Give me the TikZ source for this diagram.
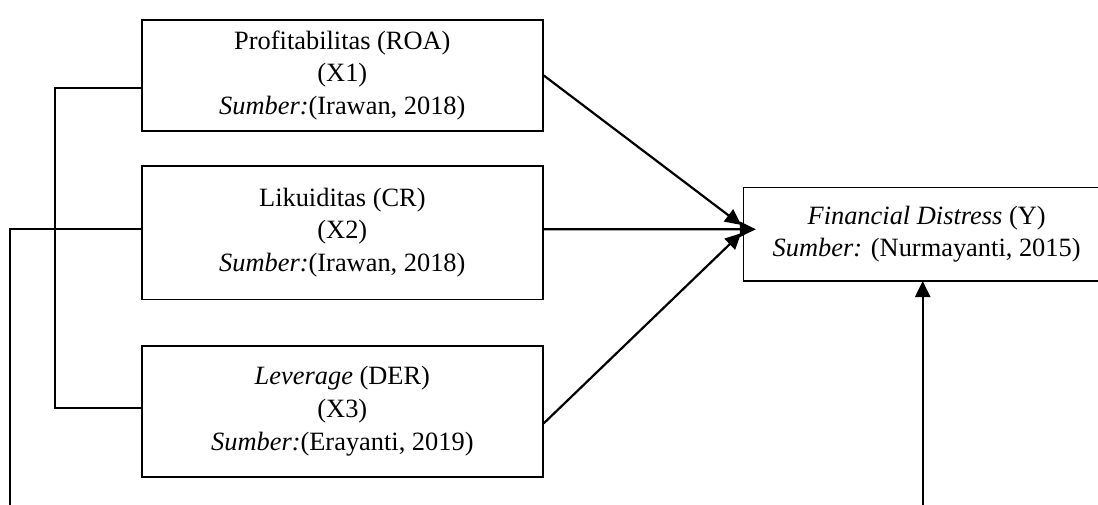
\documentclass[tikz,border=0pt]{standalone}
\usepackage{fontspec}
\setmainfont{Liberation Serif}
\usetikzlibrary{arrows.meta,calc}
\begin{document}
\begin{tikzpicture}[x=1pt,y=-1pt,
  box/.style={draw,line width=1.6pt,inner sep=0pt,align=center,
    font=\fontsize{26.4}{28.4}\selectfont},
  conn/.style={line width=2.2pt},
  arr/.style={conn,-{Triangle[length=16pt,width=15pt]}}]
\useasboundingbox (0,0) rectangle (1098,504);
\clip (0,0) rectangle (1098,504);
\node[box,minimum width=401.3pt,minimum height=111pt] (B1) at (342.35,75.5)
  {Profitabilitas (ROA)\\[4.4pt](X1)\\[4.4pt]\textit{Sumber:}(Irawan, 2018)};
\node[box,minimum width=401.3pt,minimum height=133.6pt] (B2) at (342.35,232.5)
  {Likuiditas (CR)\\[4.4pt](X2)\\[4.4pt]\textit{Sumber:}(Irawan, 2018)};
\node[box,minimum width=401.3pt,minimum height=131pt] (B3) at (342.35,411.2)
  {\textit{Leverage} (DER)\\[4.4pt](X3)\\[4.4pt]\textit{Sumber:}(Erayanti, 2019)};
\node[box,minimum width=366.7pt,minimum height=93.7pt] (Y) at (926.65,234.15)
  {\raisebox{3pt}{\textit{Financial Distress} (Y)}\\[4.4pt]\raisebox{3pt}{\textit{Sumber:} (Nurmayanti, 2015)}};
\coordinate (t1) at ($(Y.west)+(-1.3,-9.2)$);
\coordinate (t2) at ($(Y.west)+(13.4,-4.9)$);
\coordinate (t3) at ($(Y.west)+(-1.3,-1)$);
\coordinate (b1) at ($(B1.west)+(0,12.5)$);
\coordinate (b3) at ($(B3.west)+(0,-3.5)$);
\coordinate (l2) at ($(B2.west)+(0,-3.2)$);
% arrows to Y
\draw[arr] (B1.east) -- (t1);
\draw[arr] ($(B2.east)+(0,-3.2)$) -- (t2);
\draw[arr] ($(B3.east)+(0,12.1)$) -- (t3);
% bracket
\draw[conn] (b1) -- (55,88) -- (55,407.7) -- (b3);
% long connector from X2 to Y
\draw[arr] (l2) -- (10,229.3) -- (10,530) -- (922.7,530) -- (922.7,281);
\end{tikzpicture}
\end{document}
